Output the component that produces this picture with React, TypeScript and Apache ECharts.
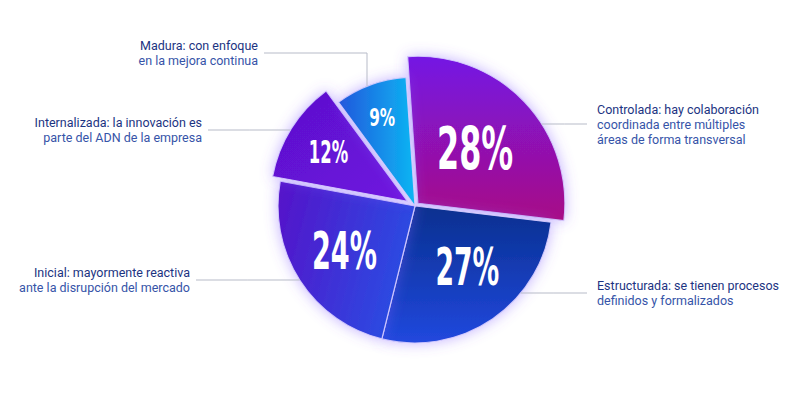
import React, { useEffect, useRef } from "react";
import * as echarts from "echarts";

// ---------- data ----------
const CATEGORIES = ["Controlada", "Estructurada", "Inicial", "Internalizada", "Madura"];
const VALUES = [28, 27, 24, 12, 9];
const PERCENT_LABELS = ["28%", "27%", "24%", "12%", "9%"];
const DESC_FIRST = [
  "Controlada: hay colaboración",
  "Estructurada: se tienen procesos",
  "Inicial: mayormente reactiva",
  "Internalizada: la innovación es",
  "Madura: con enfoque",
];
const DESC_REST = [
  ["coordinada entre múltiples", "áreas de forma transversal"],
  ["definidos y formalizados"],
  ["ante la disrupción del mercado"],
  ["parte del ADN de la empresa"],
  ["en la mejora continua"],
];

// ---------- layout / style ----------
const CENTER = [415, 206];
const START_ANGLE = 94;
const RADIUS = [147, 137, 137, 137, 129];
const EXPLODE = [4, 0, 0, 9, 0];
const PCT_DIST = [83, 80, 84, 102, 95];
const PCT_NUDGE = [[0, 0], [7, -5], [0, 0], [0, 0], [0, 0]];
const PCT_SIZE = [59, 52, 52, 32, 25];
const PCT_SCALE = [0.6, 0.57, 0.58, 0.57, 0.68];
const PCT_FONT = '"DejaVu Sans Condensed", "DejaVu Sans", sans-serif';
const GRADIENTS = [
  { x: 0, y: 0, x2: 0, y2: 1, c: ["#7414e4", "#a80f86"] },
  { x: 0, y: 0, x2: 0, y2: 1, c: ["#08308f", "#2148de"] },
  { x: 0, y: 0, x2: 1, y2: 0.3, c: ["#5612c9", "#2a4be2"] },
  { x: 0, y: 0, x2: 1, y2: 1, c: ["#5a10cc", "#7014df"] },
  { x: 0, y: 0, x2: 1, y2: 0, c: ["#2257dc", "#0cb6f3"] },
];
// description label placement: side, line y, text edge x, optional vertical drop x
const DESC_LAYOUT = [
  { side: "right", y: 124, textX: 597 },
  { side: "right", y: 293, textX: 597 },
  { side: "left", y: 280, textX: 190 },
  { side: "left", y: 130, textX: 202 },
  { side: "left", y: 53, textX: 258, dropX: 367 },
];

const TOTAL = VALUES.reduce((a, b) => a + b, 0);
const MID_ANGLES = (() => {
  let acc = 0;
  return VALUES.map((v) => {
    const a0 = START_ANGLE - (acc / TOTAL) * 360;
    acc += v;
    const a1 = START_ANGLE - (acc / TOTAL) * 360;
    return (a0 + a1) / 2;
  });
})();
const sliceCenter = (i: number) => {
  const m = (MID_ANGLES[i] * Math.PI) / 180;
  return [CENTER[0] + EXPLODE[i] * Math.cos(m), CENTER[1] - EXPLODE[i] * Math.sin(m)];
};

const transparentItem = {
  color: "rgba(0,0,0,0)",
  borderWidth: 0,
  shadowBlur: 0,
  shadowColor: "rgba(0,0,0,0)",
};

export default function App() {
  const ref = useRef<HTMLDivElement>(null);
  useEffect(() => {
    if (!ref.current) return;
    const chart = echarts.init(ref.current, undefined, { renderer: "svg" });

    const sliceSeries = VALUES.map((_, i) => {
      const g = GRADIENTS[i];
      const style = {
        color: {
          type: "linear",
          x: g.x, y: g.y, x2: g.x2, y2: g.y2,
          colorStops: [
            { offset: 0, color: g.c[0] },
            { offset: 1, color: g.c[1] },
          ],
        },
        borderColor: "rgba(214,204,255,0.9)",
        borderWidth: 1.2,
        shadowBlur: 14,
        shadowColor: "rgba(130,90,255,0.45)",
      };
      return {
        type: "pie",
        name: CATEGORIES[i],
        center: CENTER,
        radius: [0, RADIUS[i]],
        startAngle: START_ANGLE,
        clockwise: true,
        silent: true,
        z: 2,
        selectedMode: EXPLODE[i] ? "single" : false,
        selectedOffset: EXPLODE[i],
        label: { show: false },
        labelLine: { show: false },
        emphasis: { disabled: true },
        data: VALUES.map((v, j) => ({
          name: CATEGORIES[j],
          value: v,
          selected: j === i && EXPLODE[i] > 0,
          itemStyle: j === i ? style : transparentItem,
          select: { itemStyle: j === i ? style : transparentItem },
        })),
      };
    });

    // percentage labels (condensed, drawn as scaled text at each slice's mid angle)
    const pctSeries = {
      type: "custom",
      name: "pct",
      coordinateSystem: "none",
      silent: true,
      z: 5,
      data: VALUES.map((v, i) => [v, i]),
      renderItem: (params: any, api: any) => {
        const i = params.dataIndex;
        const m = (MID_ANGLES[i] * Math.PI) / 180;
        const x = CENTER[0] + PCT_DIST[i] * Math.cos(m) + PCT_NUDGE[i][0];
        const y = CENTER[1] - PCT_DIST[i] * Math.sin(m) + PCT_NUDGE[i][1];
        return {
          type: "text",
          x,
          y,
          scaleX: PCT_SCALE[i],
          scaleY: 1,
          style: {
            text: PERCENT_LABELS[i],
            fill: "#ffffff",
            font: `bold ${PCT_SIZE[i]}px ${PCT_FONT}`,
            align: "center",
            verticalAlign: "middle",
          },
        };
      },
    };

    const descSeries = {
      type: "pie",
      name: "desc",
      center: CENTER,
      radius: [0, 100],
      startAngle: START_ANGLE,
      clockwise: true,
      silent: true,
      z: 4,
      avoidLabelOverlap: false,
      emphasis: { disabled: true },
      itemStyle: transparentItem,
      labelLine: {
        show: true,
        length: 10,
        length2: 10,
        lineStyle: { color: "#b7bbc8", width: 1 },
      },
      labelLayout: (p: any) => {
        const i = p.dataIndex;
        const L = DESC_LAYOUT[i];
        const [cx, cy] = sliceCenter(i);
        const R = RADIUS[i];
        const sgn = L.side === "left" ? -1 : 1;
        const gap = L.side === "left" ? 6 : 10;
        const startX = L.textX - sgn * gap;
        let pts: number[][];
        if (L.dropX != null) {
          const dx = L.dropX - cx;
          const ey = cy - Math.sqrt(Math.max(R * R - dx * dx, 0));
          pts = [[startX, L.y], [L.dropX, L.y], [L.dropX, ey]];
        } else {
          const dy = L.y - cy;
          const ex = cx + sgn * Math.sqrt(Math.max(R * R - dy * dy, 0));
          pts = [[startX, L.y], [(startX + ex) / 2, L.y], [ex, L.y]];
        }
        return {
          x: L.textX,
          y: L.y,
          align: L.side === "left" ? "right" : "left",
          verticalAlign: "middle",
          labelLinePoints: pts,
        };
      },
      data: VALUES.map((v, j) => {
        const al = DESC_LAYOUT[j].side === "left" ? "right" : "left";
        return {
          name: CATEGORIES[j],
          value: v,
          label: {
            show: true,
            position: "outside",
            formatter: [`{a|${DESC_FIRST[j]}}`, ...DESC_REST[j].map((s) => `{b|${s}}`)].join("\n"),
            rich: {
              a: { color: "#1c3482", fontSize: 12.5, lineHeight: 15, fontFamily: "Roboto, sans-serif", align: al },
              b: { color: "#3654a8", fontSize: 12.5, lineHeight: 15, fontFamily: "Roboto, sans-serif", align: al },
            },
          },
        };
      }),
    };

    chart.setOption({
      animation: false,
      backgroundColor: "#ffffff",
      series: [...sliceSeries, pctSeries, descSeries],
    });
    return () => chart.dispose();
  }, []);
  return <div ref={ref} style={{ position: "fixed", left: 0, top: 0, width: 801, height: 401 }} />;
}
